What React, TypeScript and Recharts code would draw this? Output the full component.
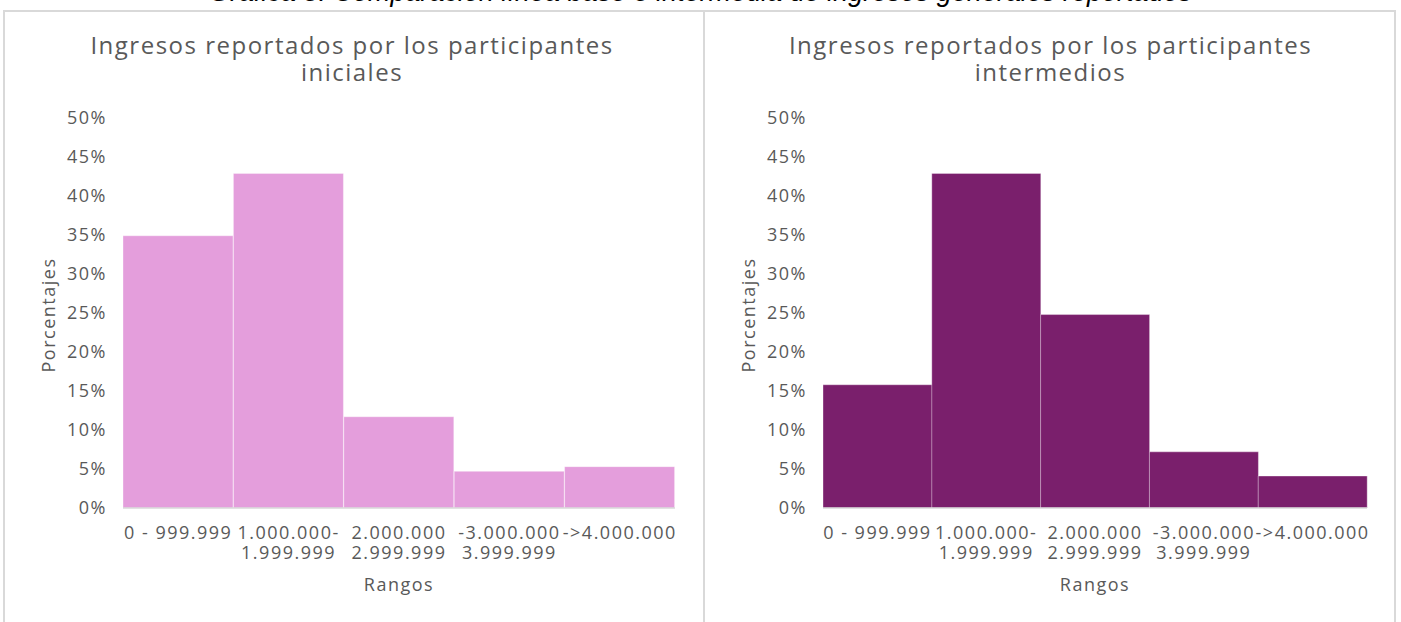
import React from "react";
import { BarChart, Bar, XAxis, YAxis } from "recharts";

const rangos = ["r1", "r2", "r3", "r4", "r5"];
const rangoLabels = [
  ["0 - 999.999"],
  ["1.000.000-", "1.999.999"],
  ["2.000.000", "2.999.999"],
  ["-3.000.000", "3.999.999"],
  ["->4.000.000"],
];
const iniciales = [34.9, 42.9, 11.7, 4.7, 5.3];
const intermedios = [15.8, 42.9, 24.8, 7.2, 4.1];
const yTicks = [0, 5, 10, 15, 20, 25, 30, 35, 40, 45, 50];

const GRAY = "#595959";
const FONT = "'Open Sans', sans-serif";
const SPACING = 1.5;

function XTick({ x, y, payload }: any) {
  const lines = rangoLabels[rangos.indexOf(payload.value)] || [];
  return (
    <text
      x={x}
      y={y}
      textAnchor="middle"
      fill={GRAY}
      fontSize={18}
      fontFamily={FONT}
      letterSpacing={SPACING}
    >
      {lines.map((l, i) => (
        <tspan key={i} x={x} dy={i === 0 ? 23 : 20}>
          {l}
        </tspan>
      ))}
    </text>
  );
}

function Panel({
  title,
  values,
  color,
  left,
  width,
  marginLeft,
  marginRight,
}: {
  title: string[];
  values: number[];
  color: string;
  left: number;
  width: number;
  marginLeft: number;
  marginRight: number;
}) {
  const data = rangos.map((r, i) => ({ rango: r, pct: values[i] }));
  return (
    <div style={{ position: "absolute", left, top: 0, width, height: 622 }}>
      <div
        style={{
          position: "absolute",
          top: 31,
          left: 0,
          width,
          textAlign: "center",
          fontFamily: FONT,
          fontSize: 24,
          letterSpacing: SPACING,
          lineHeight: "27px",
          color: GRAY,
        }}
      >
        {title.map((t, i) => (
          <div key={i}>{t}</div>
        ))}
      </div>
      <BarChart
        width={width}
        height={622}
        data={data}
        barCategoryGap={0}
        margin={{ top: 118, right: marginRight, bottom: 34, left: marginLeft }}
      >
        <XAxis
          dataKey="rango"
          height={80}
          tickLine={false}
          axisLine={{ stroke: "#d9d9d9", strokeWidth: 1.5 }}
          tick={<XTick />}
          interval={0}
          label={(p: any) => {
            const vb = p.viewBox;
            return (
              <text
                x={vb.x + vb.width / 2}
                y={vb.y + 83}
                textAnchor="middle"
                fill={GRAY}
                fontSize={18}
                letterSpacing={SPACING}
                fontFamily={FONT}
              >
                Rangos
              </text>
            );
          }}
        />
        <YAxis
          width={83}
          domain={[0, 50]}
          ticks={yTicks}
          interval={0}
          tickLine={false}
          axisLine={false}
          tickSize={6}
          tickMargin={10}
          tickFormatter={(v) => `${v}%`}
          tick={{ fill: GRAY, fontSize: 18, fontFamily: FONT, letterSpacing: SPACING }}
          label={(p: any) => {
            const vb = p.viewBox;
            const cx = vb.x + 8;
            const cy = 315;
            return (
              <text
                x={cx}
                y={cy}
                textAnchor="middle"
                dominantBaseline="central"
                transform={`rotate(-90 ${cx} ${cy})`}
                fill={GRAY}
                fontSize={18}
                letterSpacing={SPACING}
                fontFamily={FONT}
              >
                Porcentajes
              </text>
            );
          }}
        />
        <Bar
          dataKey="pct"
          fill={color}
          stroke="#ffffff"
          strokeOpacity={0.35}
          strokeWidth={1}
          isAnimationActive={false}
        />
      </BarChart>
    </div>
  );
}

export default function App() {
  return (
    <div
      style={{
        position: "absolute",
        left: 0,
        top: 0,
        width: 1401,
        height: 622,
        background: "#fff",
        overflow: "hidden",
      }}
    >
      <div
        style={{
          position: "absolute",
          top: -23,
          left: 0,
          width: 1401,
          textAlign: "center",
          fontFamily: "'Liberation Sans Narrow', 'Liberation Sans', sans-serif",
          fontStyle: "italic",
          fontSize: 27,
          color: "#000",
          whiteSpace: "nowrap",
        }}
      >
        Gráfica 5. Comparación línea base e intermedia de ingresos generales reportados
      </div>
      <div
        style={{
          position: "absolute",
          left: 3,
          top: 10,
          width: 1393,
          height: 630,
          border: "2px solid #d9d9d9",
          boxSizing: "border-box",
        }}
      />
      <div
        style={{
          position: "absolute",
          left: 703,
          top: 10,
          width: 2,
          height: 620,
          background: "#d9d9d9",
        }}
      />
      <Panel
        title={["Ingresos reportados por los participantes", "iniciales"]}
        values={iniciales}
        color="#E49EDC"
        left={0}
        width={704}
        marginLeft={40}
        marginRight={29}
      />
      <Panel
        title={["Ingresos reportados por los participantes", "intermedios"]}
        values={intermedios}
        color="#7A1F6C"
        left={704}
        width={693}
        marginLeft={36}
        marginRight={30}
      />
    </div>
  );
}
